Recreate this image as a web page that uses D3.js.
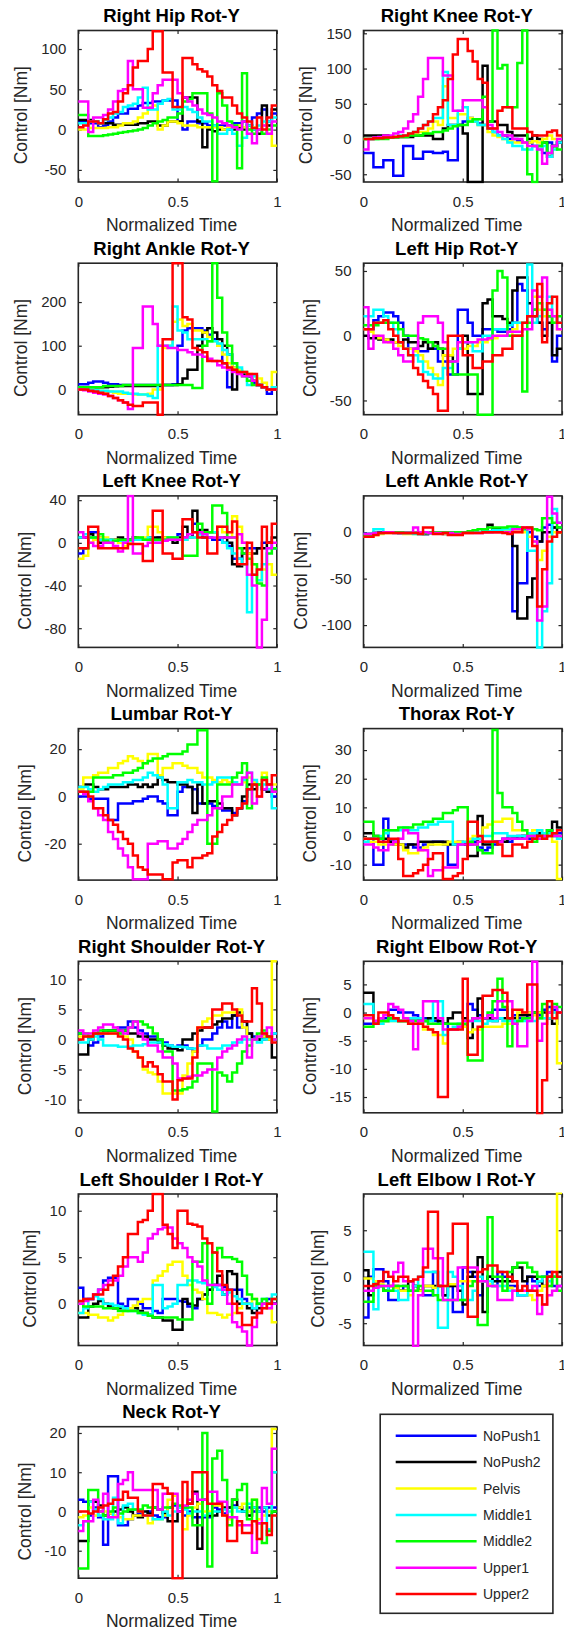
<!DOCTYPE html>
<html><head><meta charset="utf-8">
<script src="https://cdn.jsdelivr.net/npm/d3@7"></script>
<style>
body{margin:0;background:#fff}
svg text{font-family:"Liberation Sans",Arial,Helvetica,sans-serif}
</style>
</head><body>
<svg id="chart" width="564" height="1633"></svg>
<script>
// ---------------- data ----------------
const seriesNames = ["NoPush1","NoPush2","Pelvis","Middle1","Middle2","Upper1","Upper2"];
const seriesColors = ["#0000ff","#000000","#ffff00","#00ffff","#00ff00","#ff00ff","#ff0000"];
const plotTitles = ["Right Hip Rot-Y","Right Knee Rot-Y","Right Ankle Rot-Y","Left Hip Rot-Y","Left Knee Rot-Y","Left Ankle Rot-Y","Lumbar Rot-Y","Thorax Rot-Y","Right Shoulder Rot-Y","Right Elbow Rot-Y","Left Shoulder I Rot-Y","Left Elbow I Rot-Y","Neck Rot-Y"];
const xTicks = [0, 0.5, 1];
const xTickLabels = ["0","0.5","1"];
const yDomains = [[-65,123],[-61,154],[-58,289],[-61,56],[-98,44],[-124,39],[-35.4,28.7],[-15.4,37.5],[-12.2,13],[-17.8,9.1],[-4.5,11.8],[-7.4,8.9],[-17,21.6]];
const yTicks = [[-50,0,50,100],[-50,0,50,100,150],[0,100,200],[-50,0,50],[-80,-40,0,40],[-100,-50,0],[-20,0,20],[-10,0,10,20,30],[-10,-5,0,5,10],[-15,-10,-5,0,5],[0,5,10],[-5,0,5],[-10,0,10,20]];
const xLabel = "Normalized Time";
const yLabel = "Control [Nm]";

// each plot: 7 series (NoPush1, NoPush2, Pelvis, Middle1, Middle2, Upper1, Upper2), piecewise-constant values over equal intervals
const rightHip = [
 [10,10,8,8,3,5,10,15,20,20,26,26,30,33,33,35,35,36,36,36,10,0,10,10,8,8,5,5,5,5,5,8,8,10,5,15,20,25,10,20],
 [12,12,12,10,8,8,8,6,6,6,6,6,8,8,10,10,5,5,10,10,10,40,40,40,10,-22,0,-2,0,0,0,0,2,0,5,0,-5,30,5,25],
 [0,0,2,2,2,2,3,3,5,8,8,10,15,20,28,30,0,5,10,10,8,5,5,5,3,3,3,3,3,0,3,3,5,3,0,3,0,5,-5,-20],
 [8,8,10,10,8,12,15,20,22,28,30,32,40,52,25,25,32,36,38,25,25,28,25,22,15,10,10,5,-5,-5,0,-5,-20,-10,5,0,5,10,10,15],
 [18,18,-8,-8,-8,-7,-6,-5,-4,-3,-2,-1,0,2,5,8,10,12,15,15,20,35,38,45,45,45,20,-64,45,30,10,5,-48,70,0,-5,0,-5,0,5],
 [35,35,-3,15,15,18,25,35,48,50,85,50,50,27,27,45,55,62,62,62,45,40,35,30,25,20,18,15,10,8,5,3,0,10,-5,-17,0,5,-5,10],
 [3,5,10,10,8,13,20,22,35,45,55,77,85,85,100,122,122,71,71,28,28,89,89,81,75,72,66,55,48,40,40,30,20,15,10,2,15,0,15,30]
];
const rightKnee = [
 [-20,-20,-40,-40,-30,-30,-52,-52,-10,-10,-28,-28,-18,-18,-20,-20,-18,-30,-30,20,25,30,25,22,20,15,10,5,5,0,0,-3,-5,-5,-10,-10,-20,-5,-10,-5],
 [5,5,5,5,5,3,3,3,3,3,5,5,5,5,0,0,15,20,20,20,8,-61,-61,-61,104,25,25,20,20,10,5,5,5,0,5,0,-5,-25,-10,-5],
 [0,0,0,2,2,3,4,5,5,7,8,10,10,15,25,20,75,30,30,35,35,30,25,20,20,10,5,3,0,-3,-5,-5,-5,-5,-3,-5,0,5,0,0],
 [0,0,0,2,2,3,3,5,5,8,10,15,20,25,30,30,95,20,20,40,45,25,25,20,20,15,10,5,0,-5,-10,-10,-15,-15,-10,-15,-10,-25,-15,-5],
 [0,0,0,0,0,2,2,3,3,5,5,5,8,8,10,10,12,15,18,20,20,25,28,28,60,25,154,100,105,45,45,108,154,-50,-61,-10,-5,-20,-10,-15],
 [-15,0,2,3,5,5,8,10,15,25,35,60,85,115,115,115,90,90,40,40,55,55,55,55,45,20,15,10,5,5,0,0,-5,-10,-10,-15,-35,-20,-10,0],
 [0,0,1,1,2,2,3,4,5,8,10,15,20,25,35,45,55,85,120,142,142,125,110,85,80,15,15,40,45,45,15,15,15,10,5,5,5,10,12,5]
];
const rightAnkle = [
 [12,12,15,18,18,15,12,12,10,10,10,10,10,10,10,10,10,10,10,12,100,135,140,140,140,135,125,115,100,60,5,50,40,35,30,15,10,5,-10,0],
 [5,5,5,5,5,5,6,7,8,8,8,8,8,8,8,8,8,10,10,10,12,25,45,45,100,130,140,130,115,100,80,0,40,35,30,20,10,5,0,0],
 [0,0,0,-2,-3,-5,-5,-8,-10,-10,-10,-12,-12,-12,-10,0,0,95,100,155,160,145,150,135,135,130,120,110,100,80,60,50,45,40,35,30,25,15,0,40],
 [5,2,0,-2,-3,-3,-5,-5,-5,-8,-10,-10,-12,-12,-15,-20,100,100,100,190,135,130,115,115,115,115,110,110,105,90,80,60,50,40,10,30,10,5,0,5],
 [5,5,5,5,5,8,8,8,8,10,10,10,10,10,10,10,10,10,10,10,10,10,10,3,3,100,110,289,210,130,100,60,40,30,20,10,10,5,0,0],
 [0,-2,-5,-8,-10,-12,-15,-20,-25,-30,-45,95,95,190,190,150,100,100,95,95,90,90,85,80,80,75,70,65,55,50,45,40,35,30,30,20,10,5,0,0],
 [0,0,-3,-5,-8,-10,-15,-20,-25,-30,-35,-38,-38,-30,-30,-30,-58,115,115,289,289,165,160,95,90,85,65,65,65,60,50,45,40,40,35,35,10,5,0,0]
];
const leftHip = [
 [5,5,12,15,18,18,15,10,0,-10,-10,-12,-12,-10,-10,-20,-20,-30,-30,20,20,10,0,0,5,5,5,3,3,5,10,40,35,15,20,10,5,15,-20,0],
 [0,-2,-2,-3,-3,-3,-5,-5,-3,-5,-5,-8,-5,-10,-5,-10,-15,-15,-20,-10,0,-45,-45,-45,25,28,15,15,13,10,35,45,45,25,15,10,0,10,-15,-10],
 [5,3,0,-2,-3,-5,-5,-8,-10,-10,-12,-15,-20,-25,-30,-38,-15,-15,-10,-10,-10,-8,-8,-5,-5,-3,-2,0,0,0,5,10,10,15,30,20,15,20,10,5],
 [15,15,20,20,15,10,5,-5,-10,-15,-15,-20,-28,-30,-33,-33,-25,-25,-20,-10,-5,-5,-12,-12,0,0,5,5,5,8,10,10,10,55,10,15,20,30,15,10],
 [8,8,8,10,10,10,10,5,0,0,0,-2,-3,-5,-8,-10,-10,-20,-30,-30,-30,-30,-30,-61,-61,-61,35,50,45,0,0,0,-43,10,20,25,20,15,10,15],
 [22,-10,0,0,-5,-5,-10,-15,-20,-20,-10,10,15,15,15,10,-5,-20,-20,-5,-5,-5,-5,-3,-3,-2,0,0,0,3,3,3,5,5,35,30,45,20,15,5],
 [5,5,10,10,12,5,0,-5,-10,-15,-25,-30,-35,-40,-45,-58,-58,0,0,0,-15,-15,-25,-25,-20,-20,-15,-15,-10,-10,0,0,10,15,15,40,-5,25,30,10]
];
const leftKnee = [
 [-10,-5,10,10,5,3,3,3,3,3,3,3,3,3,3,3,5,3,3,3,8,5,5,18,10,5,5,3,3,0,-3,-15,-15,-10,-5,-5,-5,0,0,-5],
 [5,5,8,5,0,0,3,3,5,3,3,5,3,3,5,5,5,5,3,0,5,15,5,30,12,12,10,10,5,5,0,-20,-22,-5,-10,-10,-5,-5,0,5],
 [-15,-12,0,3,5,5,3,3,0,-3,0,3,5,5,15,15,10,5,5,3,3,3,5,5,8,10,10,10,15,10,5,25,15,0,-10,-20,-35,-25,-20,-30],
 [5,8,5,5,3,3,3,2,2,2,2,3,3,3,5,0,0,3,5,5,3,3,5,5,8,8,10,10,5,0,-5,-10,-15,-20,-65,-30,-35,-20,-5,-5],
 [-5,-5,5,5,8,2,0,2,3,3,3,5,5,3,3,3,3,3,5,5,3,-12,-12,-12,18,10,10,35,35,28,5,5,-5,-10,-15,-20,-38,-40,-10,-5],
 [10,5,0,-3,-3,0,0,-3,-8,0,44,-10,-10,-3,0,0,0,2,3,3,3,5,8,10,10,8,5,5,5,5,5,5,8,0,-30,-40,-98,-72,-5,0],
 [-5,-5,15,15,-5,-5,-5,-5,-5,-5,-1,-1,-1,-17,-17,30,30,-10,-10,-15,-15,22,22,10,5,5,-10,-10,15,15,10,20,-20,-20,0,-30,-25,15,0,18]
];
const leftAnkle = [
 [-2,-2,-1,0,0,0,0,-1,-1,-1,-1,-2,-2,-1,-1,-1,-2,-2,-1,-1,0,0,0,0,0,0,2,2,2,3,-85,-55,-55,0,-5,-10,5,8,5,5],
 [-3,-2,-1,-1,0,0,0,-1,-1,-1,-1,-1,-2,-1,-1,-1,-1,-1,0,0,0,0,0,0,2,8,3,3,3,3,-15,-93,-93,-70,-50,-10,0,0,5,0],
 [-5,-5,-3,-2,-1,-1,-1,-1,-2,-2,-2,-2,-1,-1,-1,-1,-2,-2,-1,-1,-1,-1,0,0,0,0,0,0,2,2,2,2,0,-5,-10,-30,-20,-5,0,0],
 [-2,-2,3,3,0,0,-1,-1,-1,-1,-2,-2,-1,-1,0,0,-1,-1,-1,-1,0,0,0,0,1,1,2,2,3,3,5,5,3,-20,-20,-124,-85,-55,25,10],
 [-3,-3,-1,-1,0,0,0,0,-1,-1,-1,-1,-1,0,0,0,0,0,0,0,0,1,2,3,3,5,5,5,5,6,6,5,3,5,3,2,15,15,10,5],
 [-2,-2,-1,-1,0,0,-1,-1,-1,-1,5,0,0,-1,-1,-1,-1,-1,-2,-2,-1,-1,-1,-1,0,0,0,0,0,0,3,3,5,3,-10,-95,-80,38,20,10],
 [-5,-5,-3,-1,-1,-1,-1,-1,-1,-1,-1,-2,5,5,-2,-2,-1,-3,-3,-3,-1,-1,-1,-1,0,0,0,0,-1,-2,0,0,5,5,-15,-80,-40,-10,-5,0]
];
const lumbar = [
 [0,0,-1,-1,-1,-1,-10,-10,-3,-3,-3,-2,-2,-1,0,0,-2,-3,-8,-8,2,4,4,3,-3,-3,-3,-4,-5,-6,-6,-7,-5,-2,3,5,5,3,2,0],
 [4,5,5,4,3,3,4,4,4,4,5,5,4,5,4,5,8,7,6,6,5,5,4,-7,5,-3,-2,-2,-3,-5,-5,-8,-5,0,5,3,5,3,2,2],
 [3,8,8,9,10,10,12,12,14,15,17,16,15,14,18,18,9,12,12,14,14,13,12,12,10,8,8,7,6,7,6,5,5,6,8,6,5,10,5,5],
 [4,4,3,2,3,4,5,5,5,6,6,7,7,8,10,9,8,5,-5,-5,6,6,7,6,6,5,5,6,8,8,8,6,5,7,10,7,5,5,3,-5],
 [2,2,2,8,8,8,8,9,9,10,10,11,12,14,15,16,16,17,18,18,18,19,22,22,28,28,-20,-20,5,5,5,8,10,14,-5,5,5,8,5,3],
 [2,1,-2,-5,-8,-10,-15,-18,-22,-25,-30,-35,-35,-35,-20,-20,-19,-19,-22,-22,-20,-18,-15,-12,-10,-10,-8,-5,-5,0,0,5,5,8,10,-3,0,3,5,2],
 [2,2,0,-5,-5,-8,-10,-12,-15,-18,-20,-25,-30,-31,-33,-33,-33,-35,-35,-28,-27,-27,-30,-26,-26,-25,-24,-17,-15,-12,-10,-8,-5,-3,3,5,0,7,5,9]
];
const thorax = [
 [-1,-1,-10,-10,6,-2,-2,-3,-3,-3,-4,-4,-3,-3,-2,-2,-3,-10,-10,-2,-3,-3,-2,-4,-5,-4,-3,-2,-1,-2,-1,0,0,-1,0,1,0,2,1,1],
 [1,1,0,-1,-1,-2,-3,-3,-4,-3,-3,-2,-2,-2,-2,-2,-2,-3,-3,-3,-3,-7,-7,7,-3,-3,-2,-2,-2,-1,-1,-1,0,0,0,1,0,2,5,3],
 [-1,-2,-2,-3,-3,-3,-3,-3,-5,-6,-6,-5,-4,-3,-3,-3,-3,-2,-2,-2,-2,-1,0,0,3,4,5,5,6,6,2,2,2,1,2,2,1,0,-2,-15],
 [-2,-1,-1,0,1,2,2,2,3,2,2,3,3,4,4,5,5,5,-3,-3,-2,-2,-1,-1,0,0,1,1,1,0,0,0,0,1,1,2,1,1,0,-1],
 [5,5,0,-1,2,2,2,3,3,3,4,4,5,5,6,6,8,8,9,10,10,-2,-3,-5,-6,-6,37,15,10,10,8,5,2,0,-2,0,0,2,0,0],
 [-3,-3,-4,-5,-5,-3,-2,-1,2,1,1,-5,-5,-14,-12,-12,-11,-11,-11,-3,-3,-3,-3,-2,-2,-2,-2,-2,-1,-1,-1,-1,-1,0,0,-1,0,0,0,0],
 [-1,-1,-1,-2,-2,-1,-1,-8,-14,-14,-13,-12,-10,-8,-6,-6,-15,-15,-14,-13,-8,5,5,0,-2,-2,-2,-3,-7,-7,-3,-3,-4,-2,-1,0,-1,0,1,2]
];
const rightShoulder = [
 [1,0.5,-1,-0.5,0.5,1,1.5,1.5,2,2,3,2,1.5,1,0.5,0.5,0,-0.5,-1,-1.5,-1,-1,-1.5,-2,-1,0,0,1,2,3,2,4,2,3,1,0.5,0,0,0.5,1],
 [-2.5,-2.5,0,1,1,1.5,1.5,1.5,1.5,1.5,1,1,0.5,0.5,0,0,-0.5,-1,-1.5,-1.5,-1.8,0,0,1,1.5,2,2,2.5,3,3.5,3.5,4,4.5,3,1,0,0,0.5,0,-3],
 [0.5,0.5,1,1,1,1,1,1,1,0.5,0,-2,-3,-5,-5.5,-5.8,-7,-9,-9,-9,-9,-6,-4,-2,2,3,3.5,4,4,4.5,4.5,4.5,5,2,0,0,0.5,0.5,0,13],
 [-0.5,-0.5,0,0.5,0,-1,-1,-1,-1.2,-1.2,-1.2,-1,-1,-0.8,-0.5,-0.5,-0.5,-0.8,-1,-1.2,-1.2,-1.3,-1.5,-1.5,-1,-1,-1.5,-1.5,-1.5,-1,-1,-0.5,-0.5,0,0,0,-0.5,0,0.5,1],
 [1,1,0.5,1,1.5,1.5,1.5,1.5,1,1.5,2,3,3,2.5,2,1,0,-2,-2,-8.5,-8.5,-8.3,-8,-7,-4,-4,-4,-12,-5.5,-6,-7,-5.5,-4,-2,-1,0,1,1.5,0.5,0],
 [1.5,1,1,1.5,2,2.5,2.5,2,1.5,1,2,3,1,0,-1,-1,-2,-3,-3,-4,-6.5,-6.5,-6.2,-6,-6,-5.5,-5,-5,-3,-2,-1.5,-1,0,0.5,-3,0,0.5,1,2,0],
 [0,0.5,0.5,1,1,1,1,1,0.5,0,-1.5,-2,-3,-4.5,-3.8,-4.5,-5.8,-7,-7,-10,-6.8,-6.5,-6.5,-3,2,2,2,5,5,6,6,5,4,3,3,8.5,6,1,0.5,-0.5]
];
const rightElbow = [
 [-2,-2,-1.5,-1.5,-1,0.5,0.5,0,0,0,-0.5,-1,-1,-1,-1.5,-2,-2,-3,-3,-2.5,-2.5,1.5,0.5,-0.5,-1,-1,0.5,0.5,0.5,-1,-0.5,-1,-1,0,0,-0.5,0.5,1,0.5,0],
 [3.5,3.5,-2,-1.5,-1.5,-1,-1,-1.5,-1.5,-1,-1,-1,-1.5,-1,-1,-1.5,-2,-1,0,0,-1,-4.5,-1,2.5,-1,-1,-1.5,-1,-1,-1,-1,-0.5,-0.5,-0.5,0,0,0,-1,-2,0],
 [-1,-1,-1.5,-2,-1.5,-1.5,-1.5,-1.5,-1.5,-2,-2,-2,-3,-3,-4,-4,-5.5,-3,-3,-2.5,-2.5,-3.5,-3,-3,-2.5,-2.5,-2.5,-2.5,-2,-2,-1.5,0,0,0,-0.5,0,-1,0,0,-9],
 [1.5,1.5,-2,-2,-1.5,-1.5,-1.5,-1.5,-1.5,-1,-1,-1,-1.5,-1.5,2,2,-4,-3,-2.5,-2,-2,-1.5,-1.5,-1.5,-2,-1.5,-1.5,-1,-1.5,-1.5,-1.5,-1.5,-1.5,-1.5,-1.5,-1,-1,-1,0,0],
 [-2.5,-2.5,-2,-1.5,-1.5,-1,-1,-1.5,-1.5,-1.5,-1.5,-1.5,-1.5,-2,-2,-2,-2,-2,-2,-2,-2,-8.5,-8.5,-8.5,-1,0,2,6,1,-6,-2,-1.5,-1,-1,0,-1,1.5,0,1.5,1],
 [-1,-1,-1.5,-1,-0.5,1.5,1,0.5,-1,-1.5,-6.5,-1.5,2,2,2,-1,-3,-3,-3,-2.5,-1.5,-1.5,-1,-1,-1,-0.5,-1,2,2,2,-2,-6,-6,-1.5,9,-5,-2,0,1,0],
 [-0.5,-0.5,-2,0,0,-0.5,-1,-1.5,-1.5,-2,-2,-2,-2.5,-3,-3.5,-15,-15,-3,-3,-3,6,-7.5,-7.5,-2.5,3,3,4,4,3.5,-1,0.5,0.5,0,5,5,-18,-12,2,-1,0]
];
const leftShoulder = [
 [1.7,0.5,0.5,1,1.5,2.5,2.8,2.8,0,-0.3,0.5,0.5,0,-0.5,-0.5,-0.8,-1,0.5,0.5,0.5,0.3,0.2,-0.3,-0.5,0.5,1,1.5,2,2,1.8,1.5,1.5,1.5,0.5,0,-0.5,0,0,0.5,0],
 [-1.5,-1.5,-0.3,0,0.3,0,-0.3,-0.5,-0.5,-0.5,-0.5,-0.5,-0.8,-1,-1.2,-1.5,-1.5,-1.8,-1.8,-2.8,-2.8,0.5,0,-0.2,0.5,1,1.5,2,3,1,3.5,3.2,0,0,-0.5,-1,-0.5,0,0,0],
 [-1,-1,-1.2,-1.2,-1.5,-1.5,-1.8,-1.5,-1.2,-0.8,-0.5,-0.2,0.2,0.5,0.5,2.5,3,3.5,4.2,4.5,4.5,3,2,1.5,1.2,0.5,-1,-1,-1.2,-1.5,-1.2,-1,-0.5,0,0,0.5,0,0,-0.5,-2],
 [-1,-0.5,0.5,0.8,0.5,0,0,-0.2,-0.3,-0.5,-0.8,-0.8,-1,-1.2,-1.2,2,2,-0.5,-0.3,0,2,2,2.5,2.5,2.3,2.2,2,1.8,1.5,1,1.2,0.8,0.5,0,0,-0.5,0,0.5,0,1],
 [0,-0.3,-0.3,-0.3,-0.3,-0.5,-0.5,-0.5,-0.8,-0.8,-0.8,-0.8,-1,-1,-1.3,-1.5,-1.5,-1.5,-1.5,-1.5,-1.7,-1.7,-1.7,4.5,4.5,6.5,0,5.5,6,5,5,4.8,4.5,3,1,0.5,0,0.5,0,0.5],
 [0,0.3,0.5,1,1.5,2,2.5,2.5,3,4,5,5,4.5,5.5,7,7.5,8,8.2,8.2,7,6.5,6,5,4.5,4,2.5,2,2,2,1.5,0,-2,-2.5,-3,-4.5,-2.5,-1,0,-0.5,0],
 [0.3,0.5,0.5,1,1,1.5,2,3,4,5,7.5,7.5,8.8,9,10,11.8,11.8,8.5,7.5,6,10,10,8.6,8.5,8.3,7,6.5,5.5,3.5,2,1.5,0,-1,-2.3,-2.3,-1.5,-1,-0.5,0,0.5]
];
const leftElbow = [
 [-4.4,0,0.8,0.8,-0.5,-2.5,-2.5,-1.5,-1,-1.5,-1,-1.5,-2,-2,0.5,-1,-2,-1,-3.8,-3.8,1,0.5,0,-2,-0.5,0,-1,0.5,0,-1,-1,-2,-2,0,-0.5,-1,0,0.5,-1,-1],
 [0.7,-2,-0.5,-1,-1.5,-1,-1,-1.5,-1.5,-0.5,-1,-1.5,-1,-1,-1,-1,-2,-1,-1,-1.5,-3,0,0.5,2.1,-3.8,0,-0.5,-0.5,-0.5,-0.5,1,1,-0.5,0,0,-0.5,-1,0,0,0.5],
 [-0.2,-0.2,-0.5,-0.8,-1,-1,-1.2,-1.5,-1.5,-2,-1.5,-1.5,-1,-1,-1.2,-1,-1,-0.8,-0.8,-0.5,-0.5,-0.5,-0.5,-0.5,-0.5,-0.8,-1,-1,-1,-1.2,-1.5,-1.5,-1.5,-2,-2.5,-1.5,-1,-0.5,0,9],
 [2.7,2.7,-3.5,-1,-1,-1.5,-1.5,-2.5,-2.5,-1.5,-1,0,0.5,0.5,0.5,-5.5,-5.5,0.5,0,-1,-2.5,-2.5,-1.5,0,-0.5,-0.5,-1,-1,-1,-1.5,-1.5,-2,-2,-1.5,-1,-0.5,0,-0.5,0,0],
 [-2.7,-2.7,-1,-1,-1.5,-1.5,-1,-1,-1,-1.5,-1.5,-1,-1.5,-1.5,-2,-2.5,-2.5,-2.5,-2.5,-2.5,-2.5,-1,-0.5,-5.2,-5.2,6.4,0,0,-1.5,0.5,1,1.5,1.5,1,0.5,0,0,-1,0,-1.5],
 [-1.5,-1.5,-1.2,-1,-1,-1,0.5,1.5,-0.5,-0.5,-7.5,-2,3,3,2,2,-2.5,-2.5,-2.5,1,1,1,1,-0.5,-0.5,-1,-1,-2.5,-2.5,-2.5,-1.5,-1.5,-1.5,-1.5,-1,-4,-3,-2,-1.5,-1],
 [-1,-1,-0.8,-0.5,0.5,0,-0.5,0,0,-0.5,-0.3,0,1,7,7,-1,-1,2.5,5.7,5.7,5.7,-4.3,-4.3,0.5,0.8,1.2,1.2,0.5,0.5,0,-0.5,-1.5,-1,-1.5,-1.5,-2,-3,0,0.5,0]
];
const neck = [
 [3,2.5,-1,1,-1.5,-8.5,9,9,-3.5,-3.5,-2,-1,-0.5,-1,0,-1,-1.5,-1.5,1,1.5,1,-1,0,-1.5,-1.5,-1.5,-1.5,1,0.5,-0.5,1,1.5,1,0,1,0,1,0,1,1],
 [-7.5,-7.5,2.5,2.5,1.5,-1,-0.5,0,0.5,1,0,-1,-1.5,0,-0.5,1,0.5,-0.5,-2.5,-2.5,0,1,2,5,-9.5,3,-1,-1,0,1,1,3,1,0,-1,1,0,1,-1,0],
 [-1.5,-1,1,-1,0,0,-0.5,-1,-1.5,-2,-2,-1,-1,-1,-3,-2,-2,-1,3,4,1,-4.5,-1,1,2,0,0,1.5,1.5,-1,-2,1,1,2,0,3,-2,-1,0,21],
 [-3.5,-2.5,2.5,0.5,-1,-2,-2,3.5,-3,1.5,2,0.5,0,-1,-1,-2,-2,0,-1,0,1,0.5,-0.5,0,0,-1,-0.5,0,0,0.5,0,1,0,0,2,1,0,1,-4.5,10],
 [-14.5,-14.5,5.5,5.5,0,-1,0,1,-0.5,0,0.5,0.5,0.5,1.5,1,1,0.5,1,1,2,1.5,1,1,-3.5,-3.5,20,-14,13.5,15.5,8,-3.5,3,5.5,7,-2,3,-3,-8,-5,0],
 [-5,-2.5,-2.5,3,0,4.5,-1.5,-1.5,7,8,10,5.5,5.5,5.5,5.5,5.5,0.5,4.5,4.5,4.5,0,1.5,3,4.5,3,3,5,5,2.5,2.5,-1.5,-1.5,-3.5,-3.5,-3.5,-10.5,-3,6,2,16],
 [0,0,-0.5,0,1,1.5,2,3,3,5,3.5,3.5,0,-1,-1,7,7,6,4.5,-17,-17,7.5,2,10,10,10,2,2,2,-1,-7.5,-7.5,-2.5,-5.5,-5.5,-2.5,-7,-3,-6,-1]
];
const plotData = [rightHip, rightKnee, rightAnkle, leftHip, leftKnee, leftAnkle, lumbar, thorax, rightShoulder, rightElbow, leftShoulder, leftElbow, neck];

// ---------------- layout ----------------
const colX = [78.3, 363.5], axW = 198.5, axH = 151.5, top0 = 30.5, rowStep = 232.7;
const axisColor = "#262626";
const svg = d3.select("#chart");

plotData.forEach((series, k) => {
  const col = k % 2, row = Math.floor(k / 2);
  const x0 = colX[col], y0 = top0 + row * rowStep;
  const g = svg.append("g").attr("transform", `translate(${x0},${y0})`);
  const x = d3.scaleLinear().domain([0, 1]).range([0, axW]);
  const y = d3.scaleLinear().domain(yDomains[k]).range([axH, 0]);

  g.append("defs").append("clipPath").attr("id", "clip" + k)
    .append("rect").attr("x", -1.5).attr("y", -1.5).attr("width", axW + 3).attr("height", axH + 3);

  // box
  g.append("rect").attr("width", axW).attr("height", axH)
    .attr("fill", "none").attr("stroke", axisColor).attr("stroke-width", 1.6);

  // axes (ticks inward, mirrored)
  const fmt = d => String(d);
  const xb = g.append("g").attr("transform", `translate(0,${axH})`)
    .call(d3.axisBottom(x).tickValues(xTicks).tickFormat((d, i) => xTickLabels[i]).tickSize(-3.5).tickPadding(14));
  const xt = g.append("g").call(d3.axisTop(x).tickValues(xTicks).tickFormat("").tickSize(-3.5));
  const yl = g.append("g").call(d3.axisLeft(y).tickValues(yTicks[k]).tickFormat(fmt).tickSize(-3.5).tickPadding(12));
  const yr = g.append("g").attr("transform", `translate(${axW},0)`)
    .call(d3.axisRight(y).tickValues(yTicks[k]).tickFormat("").tickSize(-3.5));
  [xb, xt, yl, yr].forEach(a => {
    a.select(".domain").remove();
    a.selectAll(".tick line").attr("stroke", axisColor).attr("stroke-width", 1.2);
    a.selectAll(".tick text").attr("fill", axisColor).style("font-size", "15px")
      .style("font-family", '"Liberation Sans", Arial, Helvetica, sans-serif');
  });

  // series lines (stairs)
  const line = d3.line().x(d => x(d[0])).y(d => y(d[1])).curve(d3.curveStepAfter);
  const lg = g.append("g").attr("clip-path", `url(#clip${k})`);
  series.forEach((vals, s) => {
    const n = vals.length;
    const pts = vals.map((v, i) => [i / n, v]);
    pts.push([1, vals[n - 1]]);
    lg.append("path").attr("d", line(pts)).attr("fill", "none")
      .attr("stroke", seriesColors[s]).attr("stroke-width", 2.5).attr("stroke-linejoin", "miter");
  });

  // title
  g.append("text").attr("x", axW / 2 - 6).attr("y", -8.5).attr("text-anchor", "middle")
    .style("font-size", "18.5px").style("font-weight", "bold").attr("fill", "#000").text(plotTitles[k]);
  // x label
  g.append("text").attr("x", axW / 2 - 6).attr("y", axH + 49.3).attr("text-anchor", "middle")
    .style("font-size", "17.5px").attr("fill", axisColor).text(xLabel);
  // y label
  const bb = yl.node().getBBox();
  g.append("text").attr("transform", `translate(${bb.x - 20},${axH / 2 + 9}) rotate(-90)`)
    .attr("text-anchor", "middle").attr("dominant-baseline", "central")
    .style("font-size", "17.5px").attr("fill", axisColor).text(yLabel);
});

// legend
const lgd = svg.append("g");
lgd.append("rect").attr("x", 380.2).attr("y", 1414.3).attr("width", 172.7).attr("height", 199)
  .attr("fill", "#fff").attr("stroke", axisColor).attr("stroke-width", 1.6);
seriesNames.forEach((name, i) => {
  const yy = 1435.7 + i * 26.4;
  lgd.append("line").attr("x1", 395.7).attr("x2", 476.6).attr("y1", yy).attr("y2", yy)
    .attr("stroke", seriesColors[i]).attr("stroke-width", 2.5);
  lgd.append("text").attr("x", 483).attr("y", yy).attr("dominant-baseline", "central")
    .style("font-size", "14px").attr("fill", axisColor).text(name);
});
</script>
</body></html>
